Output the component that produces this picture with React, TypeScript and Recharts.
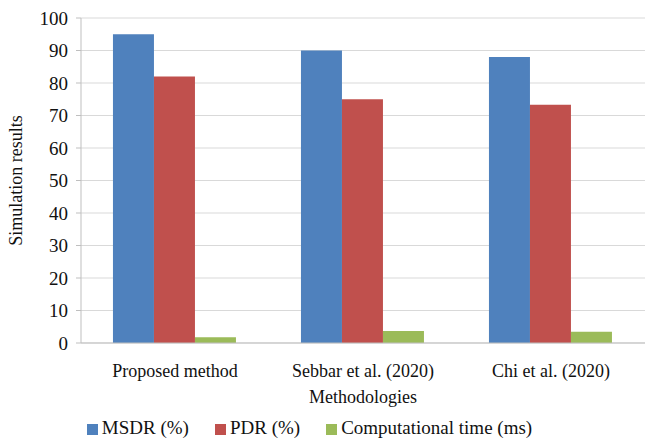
import React from 'react';
import { BarChart, Bar, XAxis, YAxis, CartesianGrid, Legend } from 'recharts';

const methods = ['Proposed method', 'Sebbar et al. (2020)', 'Chi et al. (2020)'];
const msdr = [95, 90, 88];
const pdr = [82, 75, 73.3];
const compTime = [1.8, 3.7, 3.5];
const yTicks = [0, 10, 20, 30, 40, 50, 60, 70, 80, 90, 100];
const seriesOrder = ['msdr', 'pdr', 'time'];

const data = methods.map((name, i) => ({
  name,
  msdr: msdr[i],
  pdr: pdr[i],
  time: compTime[i],
}));

const FONT = "'Liberation Serif', 'Times New Roman', serif";

// force the serif face on every svg text and the html legend
const css = `
.chart-box, .chart-box text, .chart-box .recharts-legend-wrapper, .chart-box .recharts-legend-item-text {
  font-family: ${FONT} !important;
}
`;

export default function App() {
  return (
    <div className="chart-box" style={{ position: 'absolute', left: 0, top: 0, background: '#fff' }}>
      <style>{css}</style>
      <BarChart
        width={647}
        height={440}
        data={data}
        margin={{ top: 18, right: 2, left: 0, bottom: 0 }}
        barCategoryGap="17%"
        barGap={0}
      >
        <CartesianGrid vertical={false} stroke="#d9d9d9" />
        <XAxis
          dataKey="name"
          height={68}
          stroke="#bfbfbf"
          tickLine={false}
          tick={{ fill: '#111', fontSize: 18, dy: 13 }}
          label={{ value: 'Methodologies', position: 'insideBottom', offset: 8, fill: '#111', fontSize: 18 }}
        />
        <YAxis
          width={81}
          domain={[0, 100]}
          ticks={yTicks}
          stroke="#bfbfbf"
          tickSize={5}
          tickMargin={8}
          tick={{ fill: '#111', fontSize: 19 }}
          label={{ value: 'Simulation results', angle: -90, position: 'insideLeft', offset: 16, style: { textAnchor: 'middle' }, fill: '#111', fontSize: 18 }}
        />
        <Legend
          verticalAlign="bottom"
          height={29}
          iconType="square"
          iconSize={11}
          itemSorter={(item: any) => seriesOrder.indexOf(item.dataKey)}
          wrapperStyle={{ fontSize: 19, lineHeight: '20px', color: '#111', bottom: -7 }}
          formatter={(value) => <span style={{ color: '#111', marginRight: 16 }}>{value}</span>}
        />
        <Bar dataKey="msdr" name="MSDR (%)" fill="#4f81bd" isAnimationActive={false} />
        <Bar dataKey="pdr" name="PDR (%)" fill="#c0504d" isAnimationActive={false} />
        <Bar dataKey="time" name="Computational time  (ms)" fill="#9bbb59" isAnimationActive={false} />
      </BarChart>
    </div>
  );
}
